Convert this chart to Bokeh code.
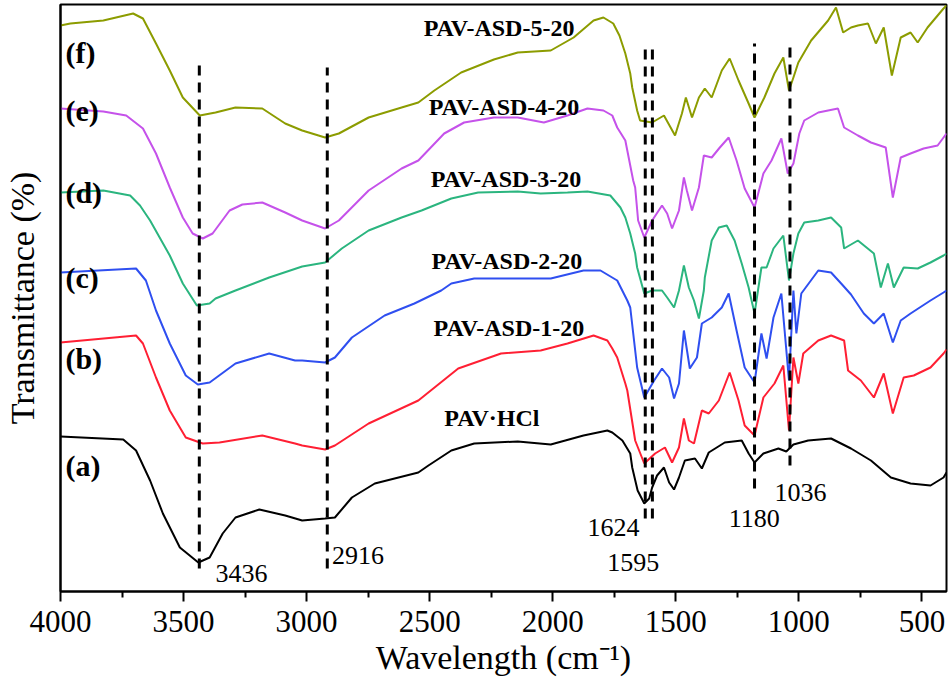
from bokeh.plotting import figure
from bokeh.models import Range1d, FixedTicker, Label
from bokeh.embed import file_html
from bokeh.resources import INLINE

# ---- data (wavenumber cm^-1, transmittance a.u. with vertical offsets) ----
a_wn = [4000,3745,3693,3636,3584,3515,3440,3394,3341,3289,3192,3087,3018,2925,2885,2816,2723,2546,2505,2412,
        2319,2142,2008,1875,1778,1758,1717,1685,1677,1655,1628,1608,1596,1576,1548,1527,1507,1487,1463,1422,
        1394,1366,1301,1232,1204,1180,1144,1083,1051,1022,962,869,788,707,626,546,465,412,400]
a_t = [155,152,141,111,78,44,29,34,58,74,82,76,71,73,74,94,108,119,126,141,
       148,150,147,156,161,159,151,138,124,101,88,93,104,116,124,109,102,114,131,133,
       123,139,149,151,138,129,138,143,140,147,151,153,143,131,114,108,106,114,119]

b_wn = [4000,3693,3665,3612,3556,3491,3422,3354,3180,3047,3018,2925,2885,2748,2546,2384,2210,2049,1940,1834,
        1778,1758,1738,1705,1697,1665,1628,1584,1544,1515,1487,1467,1447,1426,1394,1366,1325,1281,1245,1220,
        1180,1144,1099,1063,1040,1022,1002,982,921,869,816,800,748,695,655,618,574,533,465,412,400]
b_t = [249,256,248,214,181,154,148,149,156,148,146,142,146,168,191,223,238,241,248,256,
       251,243,234,208,201,151,128,138,144,129,144,173,151,148,181,178,191,219,191,166,
       156,194,208,226,161,234,208,238,251,256,251,221,211,194,218,178,214,216,224,238,242]

c_wn = [4000,3693,3653,3612,3556,3491,3442,3394,3289,3152,3047,3018,2925,2885,2816,2683,2562,2453,2412,2319,
        2142,2008,1875,1806,1738,1697,1685,1657,1628,1588,1556,1527,1507,1487,1467,1443,1414,1394,1354,1313,
        1285,1253,1220,1180,1152,1131,1103,1071,1040,1022,1010,990,921,869,828,788,736,695,655,618,
        586,546,465,412,400]
c_t = [319,323,311,281,248,216,207,209,228,238,231,231,229,234,254,276,288,301,308,313,
       313,313,321,321,311,291,284,224,194,211,223,214,193,208,261,223,234,268,274,284,
       298,261,224,209,258,233,274,298,211,301,258,298,321,319,308,297,278,268,278,249,
       271,278,291,299,301]

d_wn = [4000,3826,3717,3677,3636,3556,3503,3446,3394,3370,3289,3152,3018,2925,2857,2748,2614,2533,2412,2303,
        2142,2049,1940,1859,1766,1725,1705,1685,1665,1657,1628,1596,1556,1535,1507,1487,1467,1447,1426,1406,
        1386,1382,1354,1325,1293,1261,1232,1204,1180,1152,1131,1103,1063,1040,1022,1002,978,921,869,828,
        816,760,695,667,638,614,574,517,465,412,400]
d_t = [399,401,396,386,371,336,308,286,288,293,301,314,325,329,343,361,374,381,393,399,
       400,398,399,400,396,384,374,358,338,324,298,301,301,294,284,301,326,304,291,273,
       301,314,351,364,366,351,328,304,278,324,324,343,356,311,338,358,369,371,374,364,
       343,351,338,304,328,304,324,323,329,336,338]

e_wn = [4000,3826,3733,3665,3612,3556,3503,3463,3422,3382,3313,3261,3180,3087,3018,2925,2869,2748,2614,2546,
        2441,2360,2239,2142,2036,1940,1859,1794,1758,1738,1705,1673,1665,1653,1628,1596,1556,1535,1515,1487,
        1467,1455,1434,1406,1386,1354,1321,1285,1253,1220,1180,1144,1111,1071,1045,1022,998,978,921,841,
        816,760,707,647,618,586,546,493,436,412,400]
e_t = [483,480,476,463,438,404,374,358,353,358,381,387,389,379,371,363,371,401,423,431,
       458,469,474,474,469,476,483,481,476,464,451,411,404,371,354,371,386,378,363,381,
       414,401,381,404,436,434,444,454,431,403,384,418,431,453,418,428,458,471,479,483,
       464,456,449,444,394,434,438,443,446,454,458]

f_wn = [4000,3960,3826,3705,3665,3612,3556,3503,3434,3370,3289,3180,3087,3018,2925,2869,2748,2614,2546,2481,
        2372,2239,2142,2008,1915,1834,1794,1754,1729,1705,1685,1677,1657,1645,1596,1548,1503,1475,1459,1434,
        1406,1382,1354,1313,1281,1245,1204,1180,1140,1099,1063,1040,1022,1002,950,881,849,820,788,760,
        719,687,655,622,586,546,517,477,412,400]
f_t = [566,568,571,578,573,548,521,494,476,479,484,483,468,461,454,458,474,484,489,501,
       519,532,539,541,554,571,574,568,556,538,518,504,481,471,469,476,456,478,494,474,
       494,503,494,521,533,511,488,474,494,518,534,501,514,529,551,571,584,559,564,566,
       568,548,564,516,554,559,549,564,583,586]

series_wn = [a_wn, b_wn, c_wn, d_wn, e_wn, f_wn]
series_t = [a_t, b_t, c_t, d_t, e_t, f_t]
series_colors = ["#000000", "#ff1f33", "#2f4ff0", "#2bb57f", "#c552ea", "#8c9c00"]
curve_tags = ["(a)", "(b)", "(c)", "(d)", "(e)", "(f)"]
sample_names = ["PAV\u00b7HCl", "PAV-ASD-1-20", "PAV-ASD-2-20", "PAV-ASD-3-20", "PAV-ASD-4-20", "PAV-ASD-5-20"]

peak_wn = [3436, 2916, 1624, 1595, 1180, 1036]
peak_top = [526, 524, 549, 549, 548, 547]
peak_bottom = [23, 23, 73, 73, 103, 126]
peak_labels = ["3436", "2916", "1624", "1595", "1180", "1036"]

x_ticks = [4000, 3500, 3000, 2500, 2000, 1500, 1000, 500]
x_minor = [3750, 3250, 2750, 2250, 1750, 1250, 750]

FONT = "Liberation Serif"

p = figure(width=948, height=680, x_range=Range1d(4000, 400), y_range=Range1d(0, 587),
           output_backend="svg", toolbar_location=None,
           min_border_left=55, min_border_right=2, min_border_top=4, min_border_bottom=89)

p.xgrid.visible = False
p.ygrid.visible = False
p.outline_line_color = "black"
p.outline_line_width = 2
p.background_fill_color = "white"
p.border_fill_color = "white"

for wn, t, col in zip(series_wn, series_t, series_colors):
    p.line(wn, t, line_color=col, line_width=2)

p.segment(x0=peak_wn, y0=peak_bottom, x1=peak_wn, y1=peak_top,
          line_color="black", line_width=3, line_dash="10 7")

# x axis
p.xaxis.ticker = FixedTicker(ticks=x_ticks, minor_ticks=x_minor)
p.xaxis.axis_label = "Wavelength (cm\u207b\u00b9)"
p.xaxis.axis_label_text_font = FONT
p.xaxis.axis_label_text_font_style = "normal"
p.xaxis.axis_label_text_font_size = "34px"
p.xaxis.axis_label_text_color = "black"
p.xaxis.axis_label_standoff = 4
p.xaxis.major_label_text_font = FONT
p.xaxis.major_label_text_font_size = "31px"
p.xaxis.major_label_text_color = "black"
p.xaxis.major_label_standoff = 9
p.xaxis.major_tick_out = 10
p.xaxis.major_tick_in = 0
p.xaxis.minor_tick_out = 6
p.xaxis.minor_tick_in = 0
p.xaxis.major_tick_line_width = 2
p.xaxis.minor_tick_line_width = 2
p.xaxis.axis_line_width = 2

# y axis (no ticks)
p.yaxis.ticker = FixedTicker(ticks=[])
p.yaxis.axis_label = "Transmittance (%)"
p.yaxis.axis_label_text_font = FONT
p.yaxis.axis_label_text_font_style = "normal"
p.yaxis.axis_label_text_font_size = "34px"
p.yaxis.axis_label_text_color = "black"
p.yaxis.axis_label_standoff = 20
p.yaxis.axis_line_width = 2
p.yaxis.major_tick_line_color = None
p.yaxis.minor_tick_line_color = None

# curve tags (a)-(f)
tag_y = [126, 233, 314, 399, 481, 539]
for tag, ty in zip(curve_tags, tag_y):
    p.add_layout(Label(x=3980, y=ty, text=tag, text_font=FONT, text_font_style="bold",
                       text_color="black", text_font_size="30px",
                       text_baseline="middle", text_align="left"))

# sample names
name_x = [2247, 2178, 2186, 2190, 2198, 2218]
name_y = [174, 264, 331, 413, 485, 564]
for nm, nx, ny in zip(sample_names, name_x, name_y):
    p.add_layout(Label(x=nx, y=ny, text=nm, text_font=FONT, text_font_style="bold",
                       text_color="black", text_font_size="24px",
                       text_baseline="middle", text_align="center"))

# peak labels
lab_x = [3370, 2897, 1859, 1778, 1285, 1099]
lab_y = [18, 36, 64, 29, 73, 99]
for lt, lx, ly in zip(peak_labels, lab_x, lab_y):
    p.add_layout(Label(x=lx, y=ly, text=lt, text_font=FONT, text_color="black",
                       text_font_size="26px", text_baseline="middle", text_align="left"))

open("out.html", "w").write(file_html(p, INLINE))
